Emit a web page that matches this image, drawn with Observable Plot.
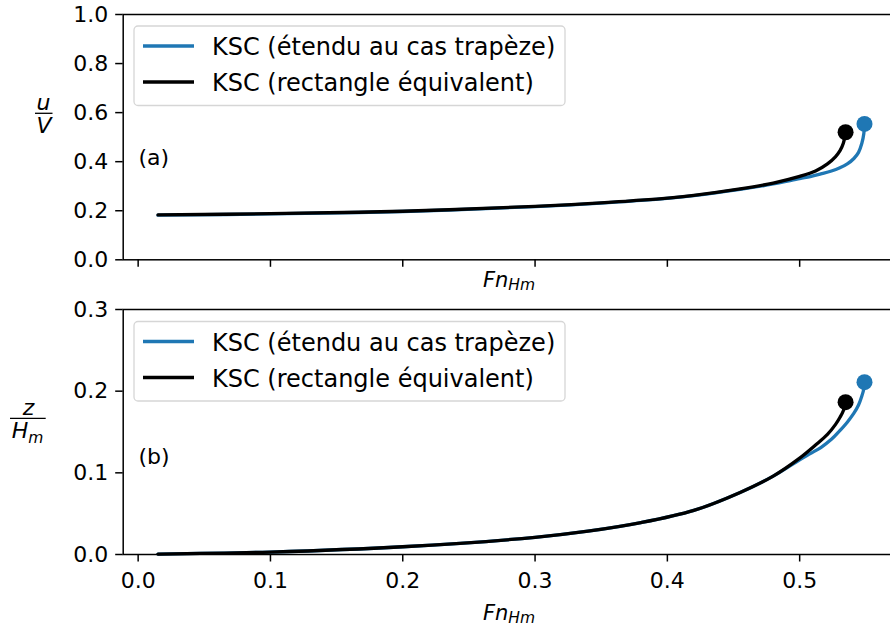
<!DOCTYPE html>
<html>
<head>
<meta charset="utf-8">
<script src="https://cdn.jsdelivr.net/npm/d3@7"></script>
<script src="https://cdn.jsdelivr.net/npm/@observablehq/plot@0.6"></script>
<style>
  html, body { margin: 0; padding: 0; background: #fff; overflow: hidden; }
  #wrap { position: relative; width: 890px; height: 630px; overflow: hidden; }
  #wrap svg { max-width: none !important; display: block; overflow: visible; }
  #overlay { position: absolute; left: 0; top: 0; pointer-events: none; }
</style>
</head>
<body>
<div id="wrap"></div>
<script>
// ---- data ----
const fnBlue = [0.015, 0.1, 0.2, 0.3, 0.34, 0.38, 0.42, 0.455, 0.48, 0.5, 0.508, 0.516, 0.524, 0.530, 0.536, 0.541, 0.5445, 0.547, 0.5485, 0.549];
const uBlue  = [0.182, 0.187, 0.197, 0.217, 0.228, 0.242, 0.262, 0.287, 0.309, 0.331, 0.339, 0.350, 0.362, 0.374, 0.391, 0.413, 0.438, 0.475, 0.515, 0.554];
const zBlue  = [0.0005, 0.003, 0.0095, 0.021, 0.0285, 0.039, 0.054, 0.076, 0.096, 0.116, 0.1235, 0.131, 0.141, 0.151, 0.162, 0.173, 0.183, 0.194, 0.203, 0.211];

const fnBlack = [0.015, 0.1, 0.2, 0.3, 0.34, 0.38, 0.42, 0.455, 0.48, 0.5, 0.512, 0.521, 0.527, 0.5305, 0.533, 0.5347];
const uBlack  = [0.183, 0.188, 0.198, 0.218, 0.229, 0.243, 0.263, 0.289, 0.313, 0.340, 0.362, 0.391, 0.420, 0.445, 0.475, 0.520];
const zBlack  = [0.0005, 0.003, 0.0095, 0.021, 0.0285, 0.039, 0.054, 0.076, 0.096, 0.118, 0.134, 0.147, 0.159, 0.168, 0.176, 0.1865];

const xTicks = [0, 0.1, 0.2, 0.3, 0.4, 0.5];
const yTicksTop = [0, 0.2, 0.4, 0.6, 0.8, 1.0];
const yTicksBottom = [0, 0.1, 0.2, 0.3];
const seriesNames = ["KSC (étendu au cas trapèze)", "KSC (rectangle équivalent)"];
const colors = ["#1f77b4", "#000000"];

const blue = fnBlue.map((f, i) => ({fn: f, u: uBlue[i], z: zBlue[i]}));
const black = fnBlack.map((f, i) => ({fn: f, u: uBlack[i], z: zBlack[i]}));
const blueEnd = [blue[blue.length - 1]];
const blackEnd = [black[black.length - 1]];

const FONT = "DejaVu Sans";
const xDomain = [-0.0113, 0.5747];
const lw = 3.3;

function panel(key, yDomain, yTicks, opts) {
  return Plot.plot({
    width: 898,
    height: opts.height,
    marginLeft: 122.7,
    marginRight: 0,
    marginTop: opts.marginTop,
    marginBottom: opts.marginBottom,
    style: {fontFamily: FONT, fontSize: "22px", color: "#000", background: "transparent", maxWidth: "none"},
    x: {domain: xDomain},
    y: {domain: yDomain},
    marks: [
      Plot.axisY({ticks: yTicks, tickFormat: d3.format(".1f"), tickSize: 7.5, tickPadding: 7.5, strokeWidth: 1.5, label: null}),
      Plot.axisX({ticks: xTicks, tickFormat: opts.xLabels ? d3.format(".1f") : () => "", tickSize: 7.5, tickPadding: 10.5, strokeWidth: 1.5, label: null}),
      Plot.line(blue, {x: "fn", y: key, stroke: colors[0], strokeWidth: lw, curve: "catmull-rom"}),
      Plot.line(black, {x: "fn", y: key, stroke: colors[1], strokeWidth: lw, curve: "catmull-rom"}),
      Plot.dot(blueEnd, {x: "fn", y: key, r: 8, fill: colors[0], stroke: "none"}),
      Plot.dot(blackEnd, {x: "fn", y: key, r: 8, fill: colors[1], stroke: "none"}),
      Plot.frame({stroke: "#000", strokeWidth: 1.5})
    ]
  });
}

const wrap = document.getElementById("wrap");
const topPlot = panel("u", [0, 1], yTicksTop, {height: 290, marginTop: 14, marginBottom: 30.7, xLabels: false});
const botPlot = panel("z", [0, 0.3], yTicksBottom, {height: 340, marginTop: 19, marginBottom: 76, xLabels: true});
wrap.appendChild(topPlot);
wrap.appendChild(botPlot);

// ---- overlay: legends, axis labels, panel labels ----
const svg = d3.select(wrap).append("svg")
  .attr("id", "overlay")
  .attr("width", 890).attr("height", 630)
  .attr("font-family", FONT);

function legend(dy) {
  const g = svg.append("g").attr("transform", `translate(0,${dy})`);
  g.append("rect").attr("x", 134).attr("y", 26).attr("width", 431).attr("height", 79.5)
    .attr("rx", 4).attr("fill", "#fff").attr("fill-opacity", 0.8)
    .attr("stroke", "#d6d6d6").attr("stroke-width", 1.3);
  seriesNames.forEach((name, i) => {
    const y = 46 + i * 36;
    g.append("line").attr("x1", 143).attr("x2", 194).attr("y1", y).attr("y2", y)
      .attr("stroke", colors[i]).attr("stroke-width", lw);
    g.append("text").attr("x", 212).attr("y", y + 9).attr("font-size", 24).attr("fill", "#000").text(name);
  });
}
legend(0);
legend(295.5);

function xlabel(y) {
  const t = svg.append("text").attr("x", 509).attr("y", y).attr("text-anchor", "middle")
    .attr("font-size", 21).attr("font-style", "italic").attr("fill", "#000");
  t.append("tspan").text("Fn");
  t.append("tspan").attr("font-size", 15.5).attr("dy", 3).text("Hm");
}
xlabel(287);
xlabel(620);

// u / V
svg.append("text").attr("x", 43.5).attr("y", 110).attr("text-anchor", "middle")
  .attr("font-size", 22).attr("font-style", "italic").text("u");
svg.append("line").attr("x1", 35).attr("x2", 52.5).attr("y1", 113.3).attr("y2", 113.3)
  .attr("stroke", "#000").attr("stroke-width", 1.3);
svg.append("text").attr("x", 44).attr("y", 133).attr("text-anchor", "middle")
  .attr("font-size", 22).attr("font-style", "italic").text("V");

// z / H_m
svg.append("text").attr("x", 28.5).attr("y", 415).attr("text-anchor", "middle")
  .attr("font-size", 22).attr("font-style", "italic").text("z");
svg.append("line").attr("x1", 10).attr("x2", 45.7).attr("y1", 418.3).attr("y2", 418.3)
  .attr("stroke", "#000").attr("stroke-width", 1.3);
const hm = svg.append("text").attr("x", 27.5).attr("y", 438).attr("text-anchor", "middle")
  .attr("font-size", 22).attr("font-style", "italic");
hm.append("tspan").text("H");
hm.append("tspan").attr("font-size", 15.5).attr("dy", 5).text("m");

svg.append("text").attr("x", 138.5).attr("y", 165).attr("font-size", 22).text("(a)");
svg.append("text").attr("x", 138.5).attr("y", 463.5).attr("font-size", 22).text("(b)");
</script>
</body>
</html>
